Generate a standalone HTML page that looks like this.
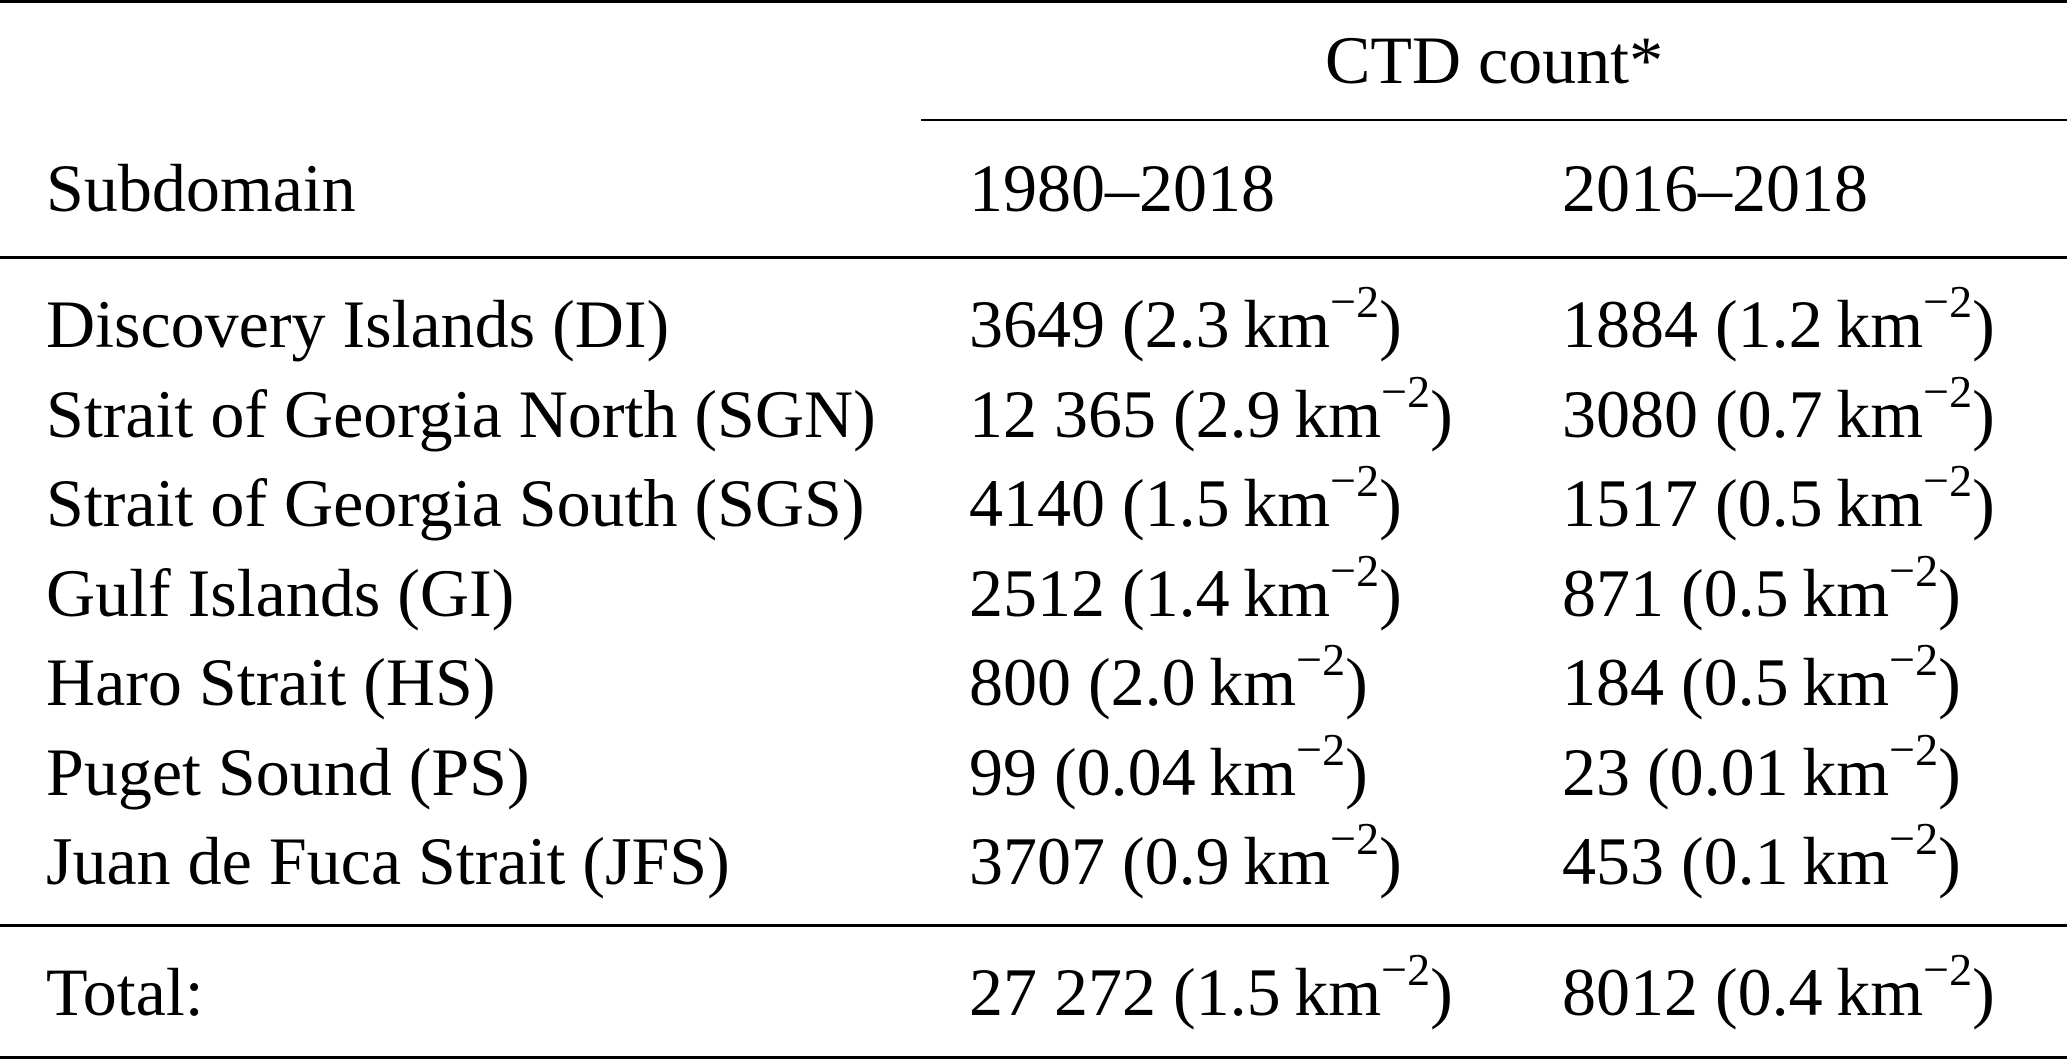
<!DOCTYPE html>
<html><head><meta charset="utf-8"><style>
body{margin:0;background:#fff;}
#t{position:relative;width:2067px;height:1061px;overflow:hidden;background:#fff;font-family:"Liberation Serif",serif;font-size:68px;color:#000;}
.c{position:absolute;white-space:nowrap;line-height:1;}
.r{position:absolute;background:#000;}
sup{font-size:46px;position:relative;top:-4px;vertical-align:26px;line-height:0;}
</style></head><body>
<div id="t">
<div class="r" style="left:0;top:0;width:2067px;height:3px"></div>
<div class="c" style="left:1325px;top:26px">CTD count*</div>
<div class="r" style="left:921px;top:119px;width:1146px;height:2px"></div>
<div class="c" style="left:46px;top:154px">Subdomain</div>
<div class="c" style="left:969px;top:154px">1980–2018</div>
<div class="c" style="left:1562px;top:154px">2016–2018</div>
<div class="r" style="left:0;top:256px;width:2067px;height:3px"></div>
<div class="r" style="left:0;top:924px;width:2067px;height:3px"></div>
<div class="r" style="left:0;top:1056px;width:2067px;height:3px"></div>
</div>
<script>
const names=["Discovery Islands (DI)","Strait of Georgia North (SGN)","Strait of Georgia South (SGS)","Gulf Islands (GI)","Haro Strait (HS)","Puget Sound (PS)","Juan de Fuca Strait (JFS)","Total:"];
const countsA=["3649","12 365","4140","2512","800","99","3707","27 272"];
const densA=["2.3","2.9","1.5","1.4","2.0","0.04","0.9","1.5"];
const countsB=["1884","3080","1517","871","184","23","453","8012"];
const densB=["1.2","0.7","0.5","0.5","0.5","0.01","0.1","0.4"];
const t=document.getElementById('t');
function cell(x,top,html,name){
  const d=document.createElement('div');
  d.className='c';
  d.style.left=x+'px';d.style.top=top+'px';
  d.innerHTML=html;
  
  
  t.appendChild(d);
}
names.forEach((n,i)=>{
  const base = i<7 ? 345+i*89.5 : 1013;
  const top = base-55;
  cell(46,top,n,'subdomain-'+i);
  cell(969,top,countsA[i]+' ('+densA[i]+'&#8201;km<sup>−2</sup>)','count-1980-2018-'+i);
  cell(1562,top,countsB[i]+' ('+densB[i]+'&#8201;km<sup>−2</sup>)','count-2016-2018-'+i);
});
</script>
</body></html>
